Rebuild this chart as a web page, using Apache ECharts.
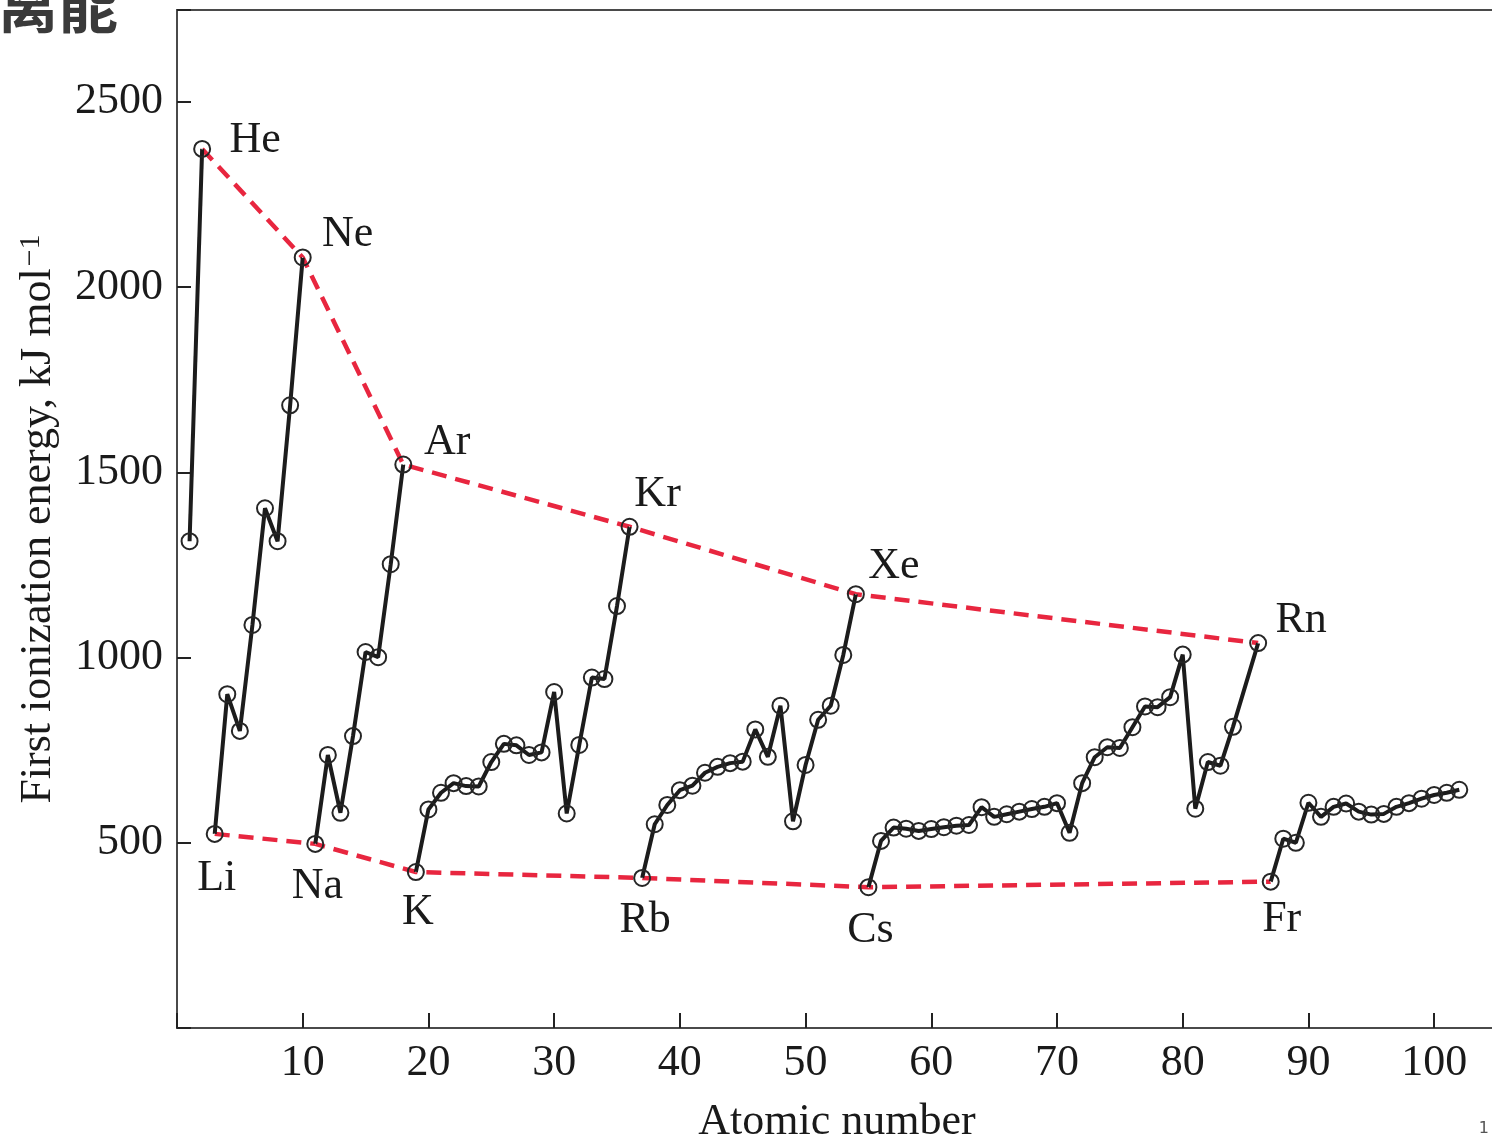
<!DOCTYPE html>
<html>
<head>
<meta charset="utf-8">
<script src="https://cdn.jsdelivr.net/npm/echarts@6/dist/echarts.min.js"></script>
<style>
  html, body { margin: 0; padding: 0; background: #fff; overflow: hidden; }
  #chart { width: 1492px; height: 1139px; }
</style>
</head>
<body>
<div id="chart"></div>
<script>
// First ionization energy (kJ/mol) for Z = 1 .. 102; astatine (85) has no point.
const energies = [
  1314, 2373,
  524, 901, 802, 1088, 1403, 1314, 1681, 2080,
  497, 737, 581, 788, 1015, 1001, 1252, 1521,
  421, 590, 635, 661, 653, 652, 718, 767, 763, 737, 744, 907, 579, 764, 946, 942, 1139, 1353,
  405, 550, 602, 642, 654, 689, 705, 715, 719, 806, 732, 870, 558, 710, 832, 870, 1007, 1171,
  380, 505, 541, 538, 532, 537, 542, 546, 548, 596, 570, 577, 584, 591, 597, 607, 527,
  661, 731, 758, 756, 812, 868, 866, 893, 1008, 592, 718, 708, 813, null, 1039,
  395, 511, 500, 608, 570, 597, 606, 584, 576, 578, 597, 607, 619, 629, 635, 643
];

// first and last atomic number of each period (the curve is broken between periods)
const periodStarts = [1, 3, 11, 19, 37, 55, 87];
const periodEnds = [2, 10, 18, 36, 54, 86, 102];

const nobleGases = [2, 10, 18, 36, 54, 86];
const nobleNames = ['He', 'Ne', 'Ar', 'Kr', 'Xe', 'Rn'];
const alkaliMetals = [3, 11, 19, 37, 55, 87];
const alkaliNames = ['Li', 'Na', 'K', 'Rb', 'Cs', 'Fr'];

const xTicks = [10, 20, 30, 40, 50, 60, 70, 80, 90, 100];
const yTicks = [500, 1000, 1500, 2000, 2500];

// label placement relative to each marked point (pixels)
const nobleLabelShift = [[53, -8], [45, -23], [44, -22], [28, -32], [38, -27], [43, -22]];
const alkaliLabelShift = [[2, 45], [2, 43], [2, 41], [3, 43], [2, 44], [11, 38]];

const SERIF = '"Liberation Serif", "DejaVu Serif", serif';
const AXIS_COLOR = '#4a4a4a';
const TEXT_COLOR = '#1a1a1a';

function periodData(first, last) {
  const out = [];
  for (let z = first; z <= last; z++) {
    const e = energies[z - 1];
    if (e != null) out.push([z, e]);
  }
  return out;
}

function groupData(zs) {
  return zs.map(z => [z, energies[z - 1]]);
}

function labelData(zs, names, shifts) {
  return zs.map((z, i) => ({
    value: [z, energies[z - 1]],
    name: names[i],
    label: { offset: shifts[i] }
  }));
}

const trendStyle = {
  type: 'line',
  z: 1,
  symbol: 'none',
  silent: true,
  lineStyle: { color: '#e8263f', width: 4.5, type: [15, 9] }
};

const labelSeriesStyle = {
  type: 'scatter',
  z: 5,
  silent: true,
  symbol: 'circle',
  symbolSize: 1,
  itemStyle: { color: '#ffffff', opacity: 1 },
  label: {
    show: true,
    position: 'top',
    distance: 0,
    formatter: p => p.name,
    fontFamily: SERIF,
    fontSize: 44,
    color: TEXT_COLOR,
    opacity: 1,
    align: 'center',
    verticalAlign: 'middle'
  }
};

const periodSeries = periodStarts.map((first, i) => ({
  name: 'period ' + (i + 1),
  type: 'line',
  z: 3,
  data: periodData(first, periodEnds[i]),
  symbol: 'circle',
  symbolSize: 16,
  showAllSymbol: true,
  lineStyle: { color: '#1c1c1c', width: 4 },
  itemStyle: { color: 'rgba(255,255,255,0)', borderColor: '#262626', borderWidth: 2 }
}));

const chart = echarts.init(document.getElementById('chart'), null, { renderer: 'canvas' });

chart.setOption({
  animation: false,
  backgroundColor: '#ffffff',
  grid: {
    left: 177,
    top: 10,
    width: 1320,
    height: 1018,
    containLabel: false,
    outerBoundsMode: 'none',
    show: true,
    borderColor: AXIS_COLOR,
    borderWidth: 2,
    backgroundColor: 'transparent'
  },
  xAxis: {
    type: 'value',
    min: 0,
    max: 105,
    interval: 10,
    name: 'Atomic number',
    nameLocation: 'middle',
    nameGap: 72,
    nameTextStyle: { fontFamily: SERIF, fontSize: 44, color: TEXT_COLOR },
    axisLine: { show: true, lineStyle: { color: AXIS_COLOR, width: 2 } },
    axisTick: { show: true, inside: true, length: 15, lineStyle: { color: '#222', width: 2 } },
    axisLabel: {
      margin: 13,
      fontFamily: SERIF,
      fontSize: 44,
      color: TEXT_COLOR,
      formatter: v => (xTicks.includes(v) ? String(v) : '')
    },
    splitLine: { show: false }
  },
  yAxis: {
    type: 'value',
    min: 0,
    max: 2748,
    interval: 500,
    name: '{t|First ionization energy, kJ mol}{s|−1}',
    nameLocation: 'middle',
    nameGap: 117,
    nameRotate: 90,
    nameTextStyle: {
      rich: {
        t: { fontFamily: SERIF, fontSize: 44, color: TEXT_COLOR },
        s: { fontFamily: SERIF, fontSize: 30, color: TEXT_COLOR, verticalAlign: 'top', padding: [0, 0, 14, 2] }
      }
    },
    axisLine: { show: true, lineStyle: { color: AXIS_COLOR, width: 2 } },
    axisTick: { show: true, inside: true, length: 14, lineStyle: { color: '#222', width: 2 } },
    axisLabel: {
      margin: 14,
      fontFamily: SERIF,
      fontSize: 44,
      color: TEXT_COLOR,
      formatter: v => (yTicks.includes(v) ? String(v) : '')
    },
    splitLine: { show: false }
  },
  series: [
    Object.assign({}, trendStyle, { name: 'noble gases', data: groupData(nobleGases) }),
    Object.assign({}, trendStyle, { name: 'alkali metals', data: groupData(alkaliMetals) }),
    ...periodSeries,
    Object.assign({}, labelSeriesStyle, { name: 'noble gas names', data: labelData(nobleGases, nobleNames, nobleLabelShift) }),
    Object.assign({}, labelSeriesStyle, { name: 'alkali metal names', data: labelData(alkaliMetals, alkaliNames, alkaliLabelShift) })
  ],
  graphic: [
    {
      type: 'text',
      right: 1492 - 118,
      top: -25,
      style: {
        text: '电离能',
        font: 'bold 60px "Noto Sans CJK SC", sans-serif',
        fill: '#3a3a3a'
      }
    },
    {
      type: 'text',
      right: 3,
      bottom: 2,
      style: {
        text: '1',
        font: '16px "DejaVu Sans", sans-serif',
        fill: '#555'
      }
    }
  ]
});
</script>
</body>
</html>
